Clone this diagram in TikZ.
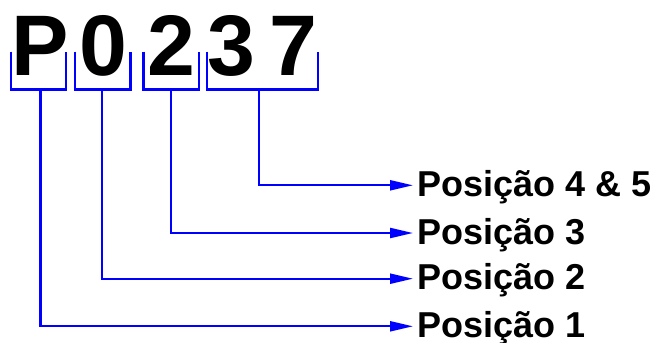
\documentclass[tikz,border=0pt]{standalone}
\usepackage{fontspec}
\setmainfont{Liberation Sans}
\usetikzlibrary{arrows.meta}
\definecolor{lineblue}{RGB}{0,0,255}
\tikzset{
  bigchar/.style={inner sep=0pt, anchor=base, font=\fontsize{86}{90}\selectfont\bfseries},
  poslabel/.style={anchor=west, inner xsep=4pt, inner ysep=0pt, text height=22pt, text depth=0pt,
                   font=\fontsize{36}{40}\selectfont\bfseries},
  bracket/.style={draw=lineblue, line width=2.2pt},
  conn/.style={draw=lineblue, line width=2.2pt, -{Triangle[length=23pt,width=10pt]}}
}
\begin{document}
\begin{tikzpicture}[x=1pt,y=-1pt]
\useasboundingbox (0,0) rectangle (662,343);
% big characters
\node[bigchar] (c1) at (40.5,75) {P};
\node[bigchar] (c2) at (103.3,75) {0};
\node[bigchar] (c3) at (171.3,75) {2};
\node[bigchar] (c4) at (231.2,75) {3};
\node[bigchar] (c5) at (293,75) {7};
% brackets
\draw[bracket] (11.2,51.7) -- (11.2,89.5) -- (66.2,89.5) -- (66.2,51.7);
\draw[bracket] (75.2,51.7) -- (75.2,89.5) -- (130.5,89.5) -- (130.5,51.7);
\draw[bracket] (143.5,51.7) -- (143.5,89.5) -- (199.2,89.5) -- (199.2,51.7);
\draw[bracket] (206.8,51.7) -- (206.8,89.5) -- (317.8,89.5) -- (317.8,51.7);
% stem coordinates
\coordinate (s1) at (40.5,89.5);
\coordinate (s2) at (101.8,89.5);
\coordinate (s3) at (170.8,89.5);
\coordinate (s4) at (258.8,89.5);
% labels
\node[poslabel] (l4) at (413,185.3) {Posição 4 \& 5};
\node[poslabel] (l3) at (413,233) {Posição 3};
\node[poslabel] (l2) at (413,278.7) {Posição 2};
\node[poslabel] (l1) at (413,326.3) {Posição 1};
% connectors
\draw[conn] (s4) |- (l4.west);
\draw[conn] (s3) |- (l3.west);
\draw[conn] (s2) |- (l2.west);
\draw[conn] (s1) |- (l1.west);
\end{tikzpicture}
\end{document}
